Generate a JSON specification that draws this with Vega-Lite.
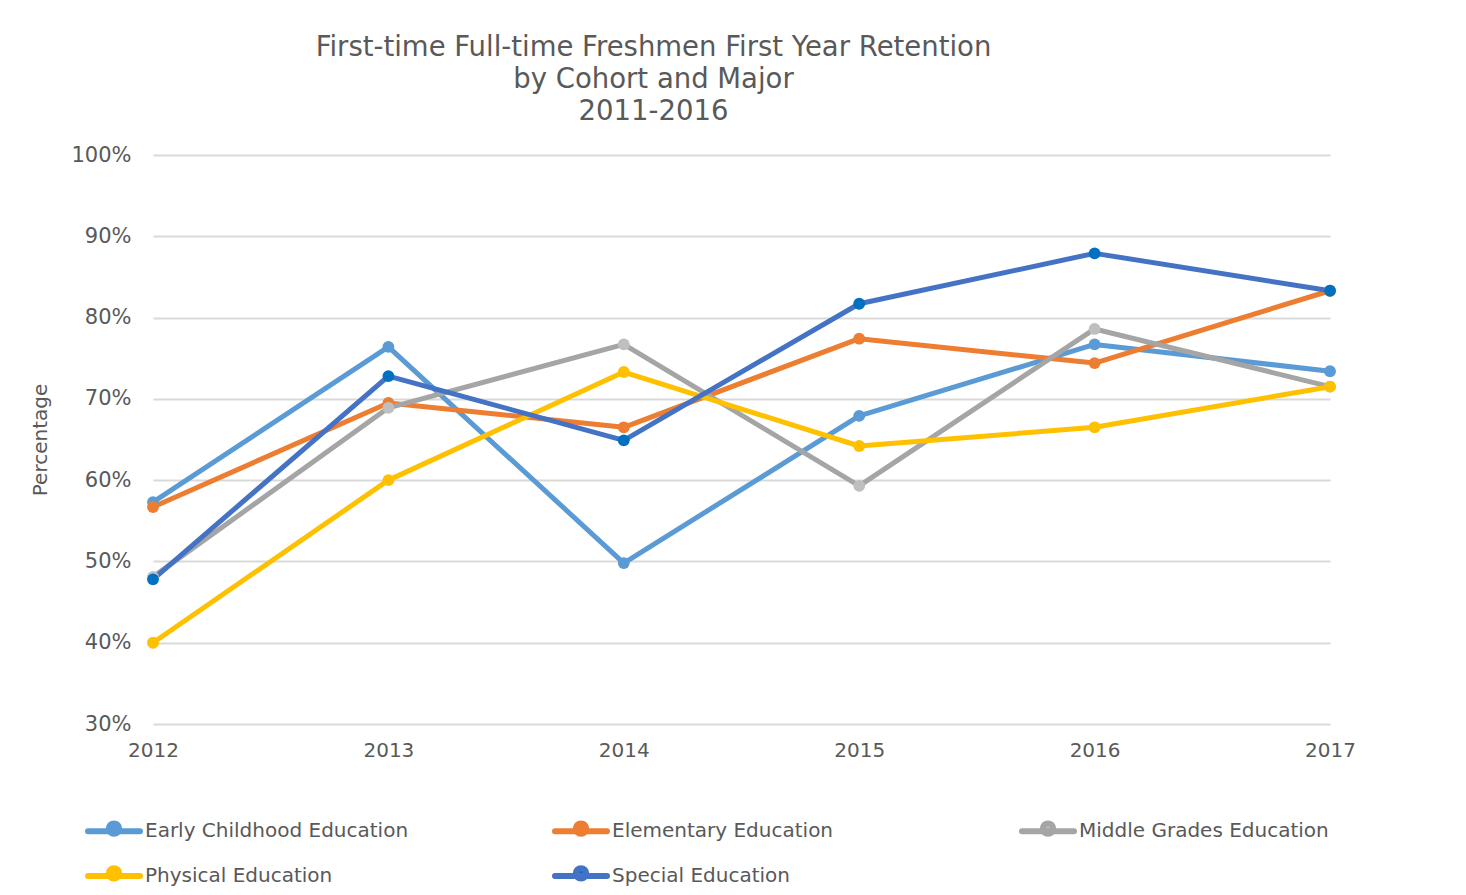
{
  "$schema": "https://vega.github.io/schema/vega-lite/v6.json",
  "autosize": {"type": "none"},
  "width": 1177,
  "height": 569,
  "padding": {"left": 153, "top": 155, "right": 136, "bottom": 171},
  "background": "white",
  "title": {
    "text": ["First-time Full-time Freshmen First Year Retention", "by Cohort and Major", "2011-2016"],
    "anchor": "middle",
    "frame": "group",
    "dx": -88,
    "offset": 19,
    "font": "DejaVu Sans",
    "fontSize": 27.5,
    "fontWeight": "normal",
    "color": "#595959",
    "lineHeight": 32
  },
  "data": {
    "values": [
      {"year": 2012, "major": "Early Childhood Education", "rate": 0.573},
      {"year": 2013, "major": "Early Childhood Education", "rate": 0.764},
      {"year": 2014, "major": "Early Childhood Education", "rate": 0.498},
      {"year": 2015, "major": "Early Childhood Education", "rate": 0.679},
      {"year": 2016, "major": "Early Childhood Education", "rate": 0.767},
      {"year": 2017, "major": "Early Childhood Education", "rate": 0.734},
      {"year": 2012, "major": "Elementary Education", "rate": 0.567},
      {"year": 2013, "major": "Elementary Education", "rate": 0.695},
      {"year": 2014, "major": "Elementary Education", "rate": 0.665},
      {"year": 2015, "major": "Elementary Education", "rate": 0.774},
      {"year": 2016, "major": "Elementary Education", "rate": 0.744},
      {"year": 2017, "major": "Elementary Education", "rate": 0.833},
      {"year": 2012, "major": "Middle Grades Education", "rate": 0.481},
      {"year": 2013, "major": "Middle Grades Education", "rate": 0.689},
      {"year": 2014, "major": "Middle Grades Education", "rate": 0.767},
      {"year": 2015, "major": "Middle Grades Education", "rate": 0.593},
      {"year": 2016, "major": "Middle Grades Education", "rate": 0.786},
      {"year": 2017, "major": "Middle Grades Education", "rate": 0.715},
      {"year": 2012, "major": "Physical Education", "rate": 0.400},
      {"year": 2013, "major": "Physical Education", "rate": 0.600},
      {"year": 2014, "major": "Physical Education", "rate": 0.733},
      {"year": 2015, "major": "Physical Education", "rate": 0.642},
      {"year": 2016, "major": "Physical Education", "rate": 0.665},
      {"year": 2017, "major": "Physical Education", "rate": 0.715},
      {"year": 2012, "major": "Special Education", "rate": 0.478},
      {"year": 2013, "major": "Special Education", "rate": 0.728},
      {"year": 2014, "major": "Special Education", "rate": 0.649},
      {"year": 2015, "major": "Special Education", "rate": 0.817},
      {"year": 2016, "major": "Special Education", "rate": 0.879},
      {"year": 2017, "major": "Special Education", "rate": 0.833}
    ]
  },
  "encoding": {
    "x": {
      "field": "year",
      "type": "quantitative",
      "scale": {"domain": [2012, 2017], "nice": false, "zero": false},
      "axis": {
        "title": null,
        "values": [2012, 2013, 2014, 2015, 2016, 2017],
        "format": "d",
        "grid": false,
        "domain": false,
        "ticks": false,
        "labelFlush": false,
        "labelPadding": 16,
        "labelFont": "DejaVu Sans",
        "labelFontSize": 20,
        "labelColor": "#595959"
      }
    },
    "y": {
      "field": "rate",
      "type": "quantitative",
      "scale": {"domain": [0.3, 1.0], "nice": false, "zero": false},
      "axis": {
        "title": "Percentage",
        "values": [0.3, 0.4, 0.5, 0.6, 0.7, 0.8, 0.9, 1.0],
        "format": ".0%",
        "domain": false,
        "ticks": false,
        "grid": true,
        "gridColor": "#D9D9D9",
        "gridWidth": 2,
        "labelFlush": false,
        "labelPadding": 22,
        "labelFont": "DejaVu Sans",
        "labelFontSize": 21,
        "labelColor": "#595959",
        "titleFont": "DejaVu Sans",
        "titleFontSize": 20,
        "titleFontWeight": "normal",
        "titleColor": "#595959",
        "titlePadding": 20
      }
    }
  },
  "layer": [
    {
      "mark": {"type": "line", "strokeWidth": 5, "strokeCap": "round", "strokeJoin": "round"},
      "encoding": {
        "color": {
          "field": "major",
          "type": "nominal",
          "scale": {
            "domain": ["Early Childhood Education", "Elementary Education", "Middle Grades Education", "Physical Education", "Special Education"],
            "range": ["#5B9BD5", "#ED7D31", "#A5A5A5", "#FFC000", "#4472C4"]
          },
          "legend": {
            "title": null,
            "orient": "none",
            "legendX": -68,
            "legendY": 647,
            "direction": "horizontal",
            "columns": 3,
            "gridAlign": "all",
            "columnPadding": 134,
            "rowPadding": 1,
            "symbolType": "M-1,0L1,0M0.2,-0.1A0.2,0.2,0,1,1,-0.2,-0.1A0.2,0.2,0,1,1,0.2,-0.1Z",
            "symbolSize": 2704,
            "symbolStrokeWidth": 6,
            "labelOffset": 2,
            "labelFont": "DejaVu Sans",
            "labelFontSize": 20,
            "labelColor": "#595959",
            "labelLimit": 400,
            "encode": {
              "symbols": {"update": {"fill": {"scale": "fill", "field": "value"}, "strokeCap": {"value": "round"}}}
            }
          }
        },
        "order": {"field": "year"}
      }
    },
    {
      "mark": {"type": "point", "filled": true, "size": 140, "opacity": 1},
      "encoding": {
        "fill": {
          "field": "major",
          "type": "nominal",
          "scale": {
            "domain": ["Early Childhood Education", "Elementary Education", "Middle Grades Education", "Physical Education", "Special Education"],
            "range": ["#5B9BD5", "#ED7D31", "#BFBFBF", "#FFC000", "#0070C0"]
          },
          "legend": null
        }
      }
    }
  ],
  "config": {
    "view": {"stroke": null}
  }
}
